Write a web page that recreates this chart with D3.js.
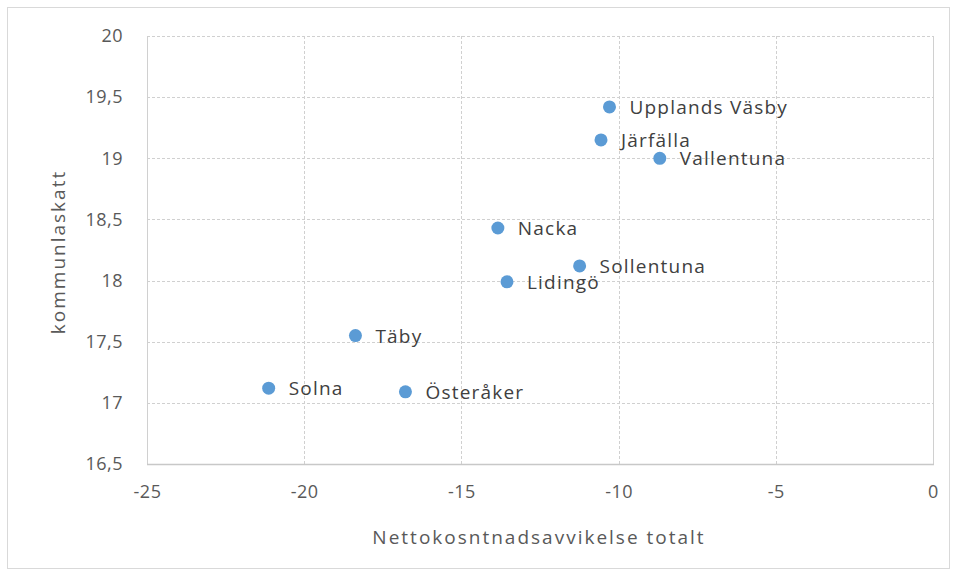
<!DOCTYPE html>
<html>
<head>
<meta charset="utf-8">
<script src="https://cdn.jsdelivr.net/npm/d3@7"></script>
<style>
  body { margin: 0; background: #fff; }
  svg text { font-family: "Open Sans", "Noto Sans", sans-serif; }
</style>
</head>
<body>
<div id="chart"></div>
<script>
// Data;
var kommuner = ["Upplands Väsby", "Järfälla", "Vallentuna", "Nacka", "Sollentuna", "Lidingö", "Täby", "Solna", "Österåker"]
var avvikelse = [-10.29, -10.56, -8.69, -13.84, -11.24, -13.55, -18.37, -21.13, -16.78]
var skatt = [19.42, 19.15, 19.0, 18.43, 18.12, 17.99, 17.55, 17.12, 17.09]

var xTicks = [-25, -20, -15, -10, -5, 0]
var yTicks = [16.5, 17, 17.5, 18, 18.5, 19, 19.5, 20]

// Layout;
var width = 957
var height = 576
var plot = { left: 147, right: 933, top: 36, bottom: 464 }

var svg = d3.select("#chart").append("svg")
    .attr("width", width)
    .attr("height", height)

// Outer chart border;
svg.append("rect")
    .attr("x", 7.5).attr("y", 7.5)
    .attr("width", width - 15).attr("height", height - 15)
    .attr("fill", "none")
    .attr("stroke", "#d9d9d9")

var x = d3.scaleLinear().domain([-25, 0]).range([plot.left, plot.right])
var y = d3.scaleLinear().domain([16.5, 20]).range([plot.bottom, plot.top])

var fmt = v => String(v).replace(".", ",")

// Gridlines;
svg.append("g")
    .selectAll("line")
    .data(yTicks.slice(1))
    .join("line")
    .attr("x1", plot.left).attr("x2", plot.right)
    .attr("y1", d => Math.round(y(d)) + 0.5).attr("y2", d => Math.round(y(d)) + 0.5)
    .attr("stroke", "#d0d0d0")
    .attr("stroke-dasharray", "3,2")

svg.append("g")
    .selectAll("line")
    .data(xTicks)
    .join("line")
    .attr("x1", d => Math.round(x(d)) + 0.5).attr("x2", d => Math.round(x(d)) + 0.5)
    .attr("y1", plot.top).attr("y2", plot.bottom)
    .attr("stroke", "#d0d0d0")
    .attr("stroke-dasharray", d => (d == -25 || d == 0) ? null : "3,2")

// X axis line;
svg.append("line")
    .attr("x1", plot.left).attr("x2", plot.right + 1)
    .attr("y1", Math.round(y(16.5)) + 0.5).attr("y2", Math.round(y(16.5)) + 0.5)
    .attr("stroke", "#c8c8c8")
    .attr("stroke-width", 1.5)

// Axes tick labels;
var xAxis = d3.axisBottom(x).tickValues(xTicks).tickFormat(fmt).tickSize(0).tickPadding(21)
var yAxis = d3.axisLeft(y).tickValues(yTicks).tickFormat(fmt).tickSize(0).tickPadding(24)

var tickStyle = g => g.selectAll("text")
    .attr("fill", "#595959")
    .style("font-size", "18px")
    .style("letter-spacing", "0.5px")
    .style("font-family", "'Open Sans', sans-serif")

svg.append("g")
    .attr("transform", `translate(0,${plot.bottom})`)
    .call(xAxis)
    .call(g => g.select(".domain").remove())
    .call(tickStyle)

svg.append("g")
    .attr("transform", `translate(${plot.left},0)`)
    .call(yAxis)
    .call(g => g.select(".domain").remove())
    .call(tickStyle)

// Axis titles;
svg.append("text")
    .attr("x", 539)
    .attr("y", 544)
    .attr("text-anchor", "middle")
    .attr("fill", "#595959")
    .style("font-size", "19px")
    .style("letter-spacing", "2px")
    .text("Nettokosntnadsavvikelse totalt")

svg.append("text")
    .attr("transform", `translate(65,252) rotate(-90)`)
    .attr("text-anchor", "middle")
    .attr("fill", "#595959")
    .style("font-size", "19px")
    .style("letter-spacing", "2px")
    .text("kommunlaskatt")

// Points and labels;
var points = kommuner.map((k, i) => ({ name: k, x: avvikelse[i], y: skatt[i] }))

svg.append("g")
    .selectAll("circle")
    .data(points)
    .join("circle")
    .attr("cx", d => x(d.x))
    .attr("cy", d => y(d.y))
    .attr("r", 6.5)
    .attr("fill", "#5b9bd5")

svg.append("g")
    .selectAll("text")
    .data(points)
    .join("text")
    .attr("x", d => x(d.x) + 20)
    .attr("y", d => y(d.y) + 7)
    .attr("fill", "#404040")
    .style("font-size", "19px")
    .style("letter-spacing", "1.2px")
    .text(d => d.name)
</script>
</body>
</html>
